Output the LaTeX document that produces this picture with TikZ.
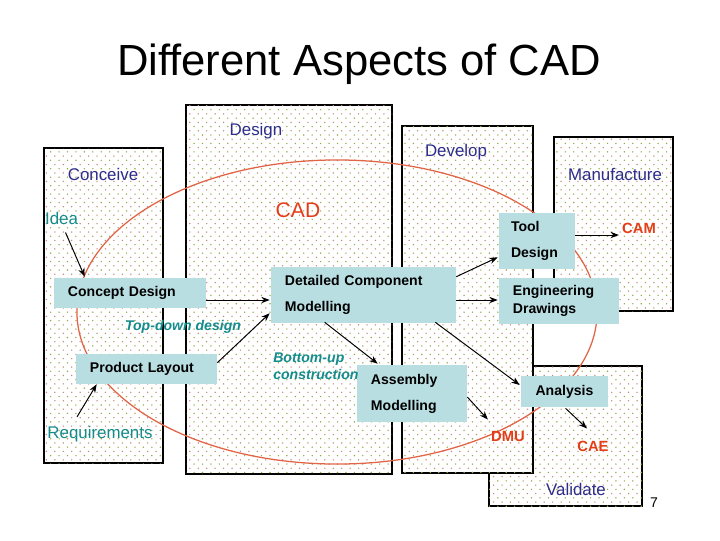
\documentclass[tikz,border=0pt]{standalone}
\usepackage{fontspec}
\setmainfont{Liberation Sans}
\usepackage{tikz}
\usetikzlibrary{positioning,calc,arrows.meta,patterns.meta}
\usepackage{xcolor}
\definecolor{boxblue}{RGB}{185,222,226}
\definecolor{phasenavy}{RGB}{45,45,140}
\definecolor{toolteal}{RGB}{20,140,140}
\definecolor{cadred}{RGB}{228,62,25}
\definecolor{ringred}{RGB}{226,100,70}
\definecolor{dotolive}{RGB}{160,165,70}
\definecolor{dotbrown}{RGB}{195,140,120}

\begin{document}
\begin{tikzpicture}[x=0.025cm, y=-0.025cm,
    panel/.style={draw=black, line width=0.9pt, fill=white,
        postaction={pattern={Dots[distance=6pt, radius=0.55pt]}, pattern color=dotolive},
        postaction={pattern={Dots[distance=6pt, radius=0.55pt, xshift=3pt, yshift=3pt]}, pattern color=dotbrown}},
    phase/.style={text=phasenavy, font=\fontsize{12}{14}\selectfont, inner sep=0pt},
    tag/.style={text=toolteal, font=\fontsize{12}{14}\selectfont, inner sep=0pt},
    way/.style={text=toolteal, font=\bfseries\itshape\fontsize{10}{12}\selectfont, inner sep=0pt, align=left},
    sys/.style={text=cadred, font=\bfseries\fontsize{10.5}{12}\selectfont, inner sep=0pt},
    box/.style={fill=boxblue, inner xsep=0.35cm, inner ysep=0pt, align=left,
        font=\bfseries\fontsize{10}{18.5}\selectfont},
    arrow/.style={->, >={Stealth[length=6pt, width=4.5pt]}, line width=0.7pt}
]
\useasboundingbox (0,0) rectangle (720,540);

% phase panels
\draw[panel] (489,366) rectangle (642,506);
\draw[panel] (44,148) rectangle (163,463);
\draw[panel] (186,105) rectangle (392,474);
\draw[panel] (402,126) rectangle (533,473);
\draw[panel] (554,137) rectangle (673,311);

% CAD region
\draw[ringred, line width=0.9pt] (337,312) ellipse [x radius=6.5cm, y radius=3.8cm];

\node[font=\fontsize{31}{37}\selectfont] (title) at (359,64) {Different Aspects of CAD};

\node[phase] (conceive) at (103,174) {Conceive};
\node[phase] (design) at (256,131) {Design};
\node[phase] (develop) at (456,152) {Develop};
\node[phase] (manufacture) at (615,174) {Manufacture};
\node[phase] (validate) at (576,489) {Validate};

\node[text=cadred, font=\fontsize{15}{18}\selectfont, inner sep=0pt] (cad) at (298,210) {CAD};

% activities
\node[box, text width=3.1cm, minimum height=0.75cm] (concept) at (130,293) {Concept Design};
\node[box, text width=2.825cm, minimum height=0.75cm] (product) at (146.5,369) {Product Layout};
\node[box, text width=3.925cm, minimum height=1.4cm] (detail) at (363.5,295) {Detailed Component\\ Modelling};
\node[box, text width=2.05cm, minimum height=1.425cm] (assembly) at (412,393.5) {Assembly\\ Modelling};
\node[box, inner xsep=0.3cm, text width=1.3cm, minimum height=1.4cm] (tool) at (537,241) {Tool\\ Design};
\node[box, text width=2.3cm, minimum height=1.15cm, font=\bfseries\fontsize{10}{12.8}\selectfont] (drawings) at (559,301) {Engineering\\ Drawings};
\node[box, align=center, text width=1.475cm, minimum height=0.775cm] (analysis) at (564.5,391.5) {Analysis};

\node[tag] (idea) at (61.5,218) {Idea};
\node[tag] (req) at (100,434) {Requirements};
\node[way] (topdown) at (183,327) {Top-down design};
\node[way, anchor=west] (bottomup) at (273,366) {Bottom-up\\ construction};

\node[sys] (cam) at (639,228) {CAM};
\node[sys] (dmu) at (508,436) {DMU};
\node[sys] (cae) at (593,446) {CAE};

\node[font=\fontsize{10}{12}\selectfont, inner sep=0pt] (page) at (654,503) {7};

% flows
\draw[arrow] ($(idea.south)+(4,8)$) -- ($(concept.north west)+(31,-1)$);
\draw[arrow] ($(req.north)+(-23,-9)$) -- ($(product.south west)+(21,0)$);
\draw[arrow] ($(concept.east)+(0,7)$) -- ($(detail.west)+(-1,5)$);
\draw[arrow] ($(product.north east)+(0,9)$) -- ($(detail.south west)+(-1,-10)$);
\draw[arrow] ($(detail.south west)+(54,-1)$) -- ($(assembly.north west)+(21,-1)$);
\draw[arrow] ($(detail.north east)+(0,10)$) -- ($(tool.south west)+(-1,-12)$);
\draw[arrow] ($(detail.east)+(0,5)$) -- ($(drawings.west)+(-1,-1)$);
\draw[arrow] ($(detail.south east)+(-21,-1)$) -- ($(analysis.west)+(-1,-6.5)$);
\draw[arrow] ($(tool.east)+(0,-6)$) -- ($(cam.west)+(-3,7)$);
\draw[arrow] ($(assembly.east)+(0,3.5)$) -- ($(dmu.north west)+(-3,-11)$);
\draw[arrow] ($(analysis.south)+(1,1)$) -- ($(cae.north)+(-6,-12)$);
\end{tikzpicture}
\end{document}
